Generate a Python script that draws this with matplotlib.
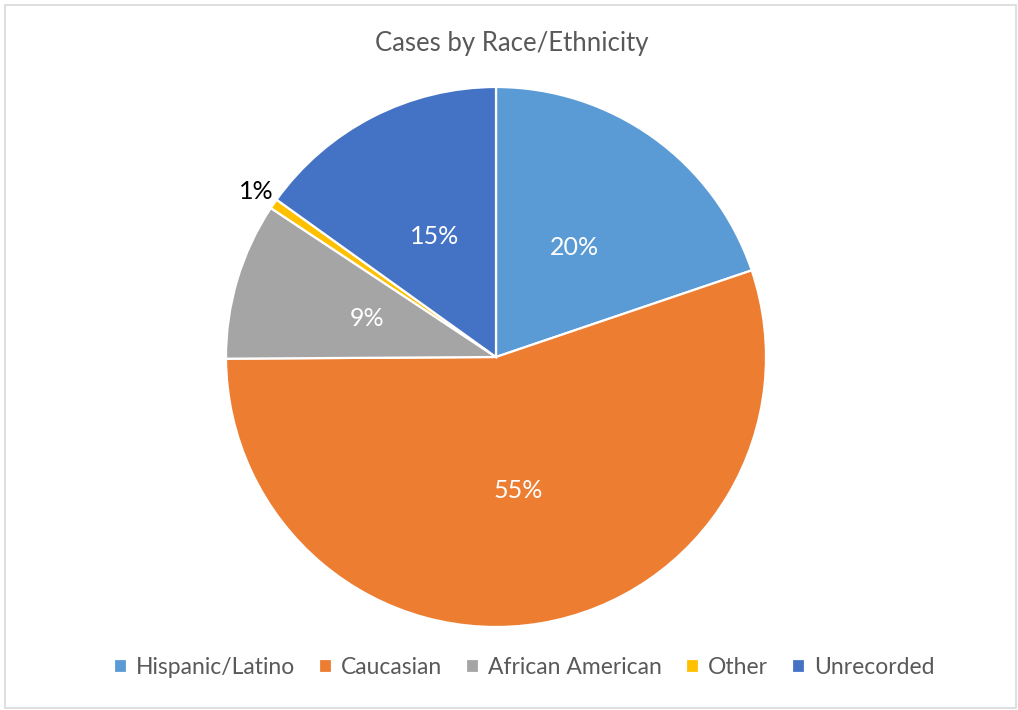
import numpy as np
import matplotlib.pyplot as plt
from matplotlib.patches import Rectangle

# Dados
categorias = ["Hispanic/Latino", "Caucasian", "African American", "Other", "Unrecorded"]
valores = [19.8, 55.1, 9.4, 0.6, 15.1]
cores = ["#5B9BD5", "#ED7D31", "#A5A5A5", "#FFC000", "#4472C4"]

plt.rcParams['font.family'] = ['Lato', 'DejaVu Sans']

fig = plt.figure(figsize=(10.18, 7.10), dpi=100)

# borda da área do gráfico
fig.patches.append(Rectangle((5 / 1018, 2 / 710), 1011 / 1018, 703 / 710,
                             transform=fig.transFigure, fill=False,
                             edgecolor="#D9D9D9", linewidth=1.2))

ax = fig.add_axes([(496 - 270) / 1018, (710 - 627) / 710, 540 / 1018, 540 / 710])
wedges, _ = ax.pie(valores, colors=cores, startangle=90, counterclock=False,
                   wedgeprops=dict(edgecolor="white", linewidth=1.6))
ax.set_xlim(-1, 1)
ax.set_ylim(-1, 1)
ax.set_aspect("equal")
ax.axis("off")

total = sum(valores)
for w, v in zip(wedges, valores):
    ang = np.deg2rad((w.theta1 + w.theta2) / 2)
    txt = f"{round(v / total * 100):.0f}%"
    if v / total < 0.03:
        r, cor = 1.08, "black"
    else:
        r, cor = 0.5, "white"
    ax.text(r * np.cos(ang), r * np.sin(ang), txt, ha="center", va="center",
            color=cor, fontsize=18)

fig.text(0.503, 1 - 44 / 710, "Cases by Race/Ethnicity", ha="center", va="center",
         fontsize=18.5, color="#595959")

fig.legend(wedges, categorias, loc="center", bbox_to_anchor=(0.515, 1 - 668 / 710),
           ncol=5, frameon=False, fontsize=16.5, handlelength=0.55, handleheight=0.55,
           handletextpad=0.4, columnspacing=1.05, labelcolor="#595959")

fig.savefig("out.png", dpi=100)
